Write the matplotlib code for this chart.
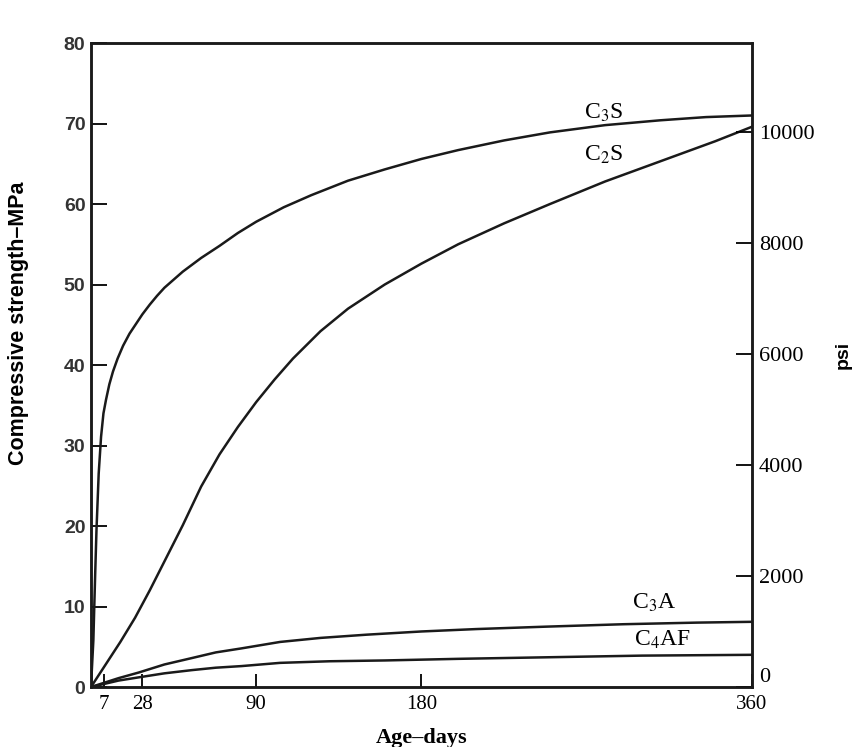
import matplotlib
matplotlib.use("Agg")
from matplotlib import pyplot as plt

# valores (idade em dias, resistencia em MPa)
dias_c3s = [0, 1.3, 1.8, 2.3, 3.0, 4.2, 5.5, 6.8, 8.2, 10, 12, 14.5, 17.5, 21, 24.5, 28, 32, 36, 40,
            50, 60, 70, 80, 90, 105, 120, 140, 160, 180, 200, 225, 250, 280, 310, 335, 360]
mpa_c3s = [0, 5.8, 10.0, 14.1, 19.5, 26.5, 31.1, 34.0, 35.7, 37.6, 39.2, 40.8, 42.4, 43.9, 45.1, 46.3, 47.5, 48.6, 49.6,
           51.6, 53.3, 54.8, 56.4, 57.8, 59.6, 61.1, 62.9, 64.3, 65.6, 66.7, 67.9, 68.9, 69.8, 70.4, 70.8, 71.0]

dias_c2s = [0, 8, 16, 24, 32, 40, 50, 60, 70, 80, 90, 100, 110, 125, 140, 160, 180, 200, 225, 250, 280, 310, 340, 360]
mpa_c2s = [0, 2.8, 5.6, 8.6, 12.0, 15.6, 20.1, 24.9, 28.9, 32.3, 35.4, 38.2, 40.8, 44.2, 47.0, 50.0, 52.6, 55.0,
           57.6, 60.0, 62.8, 65.3, 67.8, 69.6]

dias_c3a = [0, 15, 26, 40, 55, 68, 82, 103, 125, 150, 180, 210, 248, 290, 330, 360]
mpa_c3a = [0, 1.1, 1.8, 2.8, 3.6, 4.3, 4.8, 5.6, 6.1, 6.5, 6.9, 7.2, 7.5, 7.8, 8.0, 8.1]

dias_c4af = [0, 15, 26, 40, 55, 68, 82, 103, 130, 160, 200, 250, 300, 360]
mpa_c4af = [0, 0.8, 1.2, 1.7, 2.1, 2.4, 2.6, 3.0, 3.2, 3.3, 3.5, 3.7, 3.9, 4.0]

xticks = [7, 28, 90, 180, 360]
yticks = [0, 10, 20, 30, 40, 50, 60, 70, 80]
psi_ticks = [0, 2000, 4000, 6000, 8000, 10000]
PSI_POR_MPA = 145.04

plt.rcParams['mathtext.fontset'] = 'stix'

fig = plt.figure(figsize=(8.55, 7.47), dpi=100)
ax = fig.add_axes([0.1064, 0.0803, 0.7731, 0.8621])

for d, v in [(dias_c3s, mpa_c3s), (dias_c2s, mpa_c2s), (dias_c3a, mpa_c3a), (dias_c4af, mpa_c4af)]:
    ax.plot(d, v, color="#1a1a1a", lw=1.8, solid_capstyle="round", solid_joinstyle="round")

ax.set_xlim(0, 360)
ax.set_ylim(0, 80)
ax.set_xticks(xticks)
ax.set_xticklabels([str(t) for t in xticks], family="Liberation Serif", fontsize=15)
ax.set_yticks(yticks)
ax.set_yticklabels([str(t) for t in yticks], family="Liberation Sans", fontweight="bold",
                   fontsize=14, color="#333333")
ax.tick_params(axis="x", direction="in", length=9.5, width=1.3, pad=6)
ax.tick_params(axis="y", direction="in", length=11.5, width=1.3, pad=4)
for s in ax.spines.values():
    s.set_linewidth(1.8)
    s.set_color("#1a1a1a")

ax.set_xlabel("Age–days", family="Liberation Serif", fontweight="bold", fontsize=16)
ax.xaxis.set_label_coords(0.5, -0.064)
ax.set_ylabel("Compressive strength–MPa", family="Liberation Sans", fontweight="bold", fontsize=15.5)
ax.yaxis.set_label_coords(-0.094, 0.565)

ax2 = ax.twinx()
ax2.set_ylim(0, 80 * PSI_POR_MPA)
ax2.set_yticks(psi_ticks)
ax2.set_yticklabels([str(t) for t in psi_ticks], family="Liberation Serif", fontsize=16)
ax2.tick_params(axis="y", direction="in", length=11.5, width=1.3, pad=5)
ax2.get_yticklabels()[0].set_va("bottom")
for s in ax2.spines.values():
    s.set_linewidth(1.8)
    s.set_color("#1a1a1a")
ax2.set_ylabel("psi", family="Liberation Sans", fontweight="bold", fontsize=14)
ax2.yaxis.set_label_coords(1.125, 0.516)

ax.text(279, 71.3, r"C$_3$S", family="Liberation Serif", fontsize=17, ha="center", va="center")
ax.text(279, 66.1, r"C$_2$S", family="Liberation Serif", fontsize=17, ha="center", va="center")
ax.text(307, 10.4, r"C$_3$A", family="Liberation Serif", fontsize=17, ha="center", va="center")
ax.text(311, 5.8, r"C$_4$AF", family="Liberation Serif", fontsize=17, ha="center", va="center")

fig.savefig("out.png", dpi=100)
